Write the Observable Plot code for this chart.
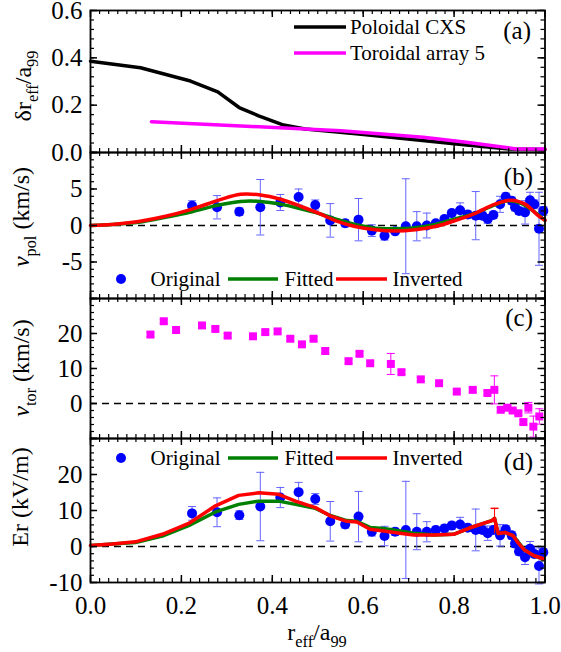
<!DOCTYPE html>
<html><head><meta charset="utf-8">
<script src="https://cdn.jsdelivr.net/npm/d3@7"></script>
<script src="https://cdn.jsdelivr.net/npm/@observablehq/plot@0.6"></script>
<style>
body{margin:0;background:#fff;}
#chart{position:relative;width:561px;height:652px;background:#fff;overflow:hidden;}
#chart svg{position:absolute;left:0;overflow:visible;}
#chart svg, #chart svg text, #chart svg tspan{font-family:"Liberation Serif","Times New Roman",serif !important;}
</style></head><body><div id="chart"></div>
<script>
// ---------- Panel (a): delta r_eff / a99 ----------
const aPolX = [0, 0.11, 0.22, 0.28, 0.327, 0.37, 0.425, 0.472, 0.59, 0.709, 0.827, 0.921, 1.0];
const aPolY = [0.386, 0.358, 0.302, 0.256, 0.190, 0.155, 0.116, 0.099, 0.078, 0.055, 0.032, 0.015, 0.013];
const aTorX = [0.134, 0.354, 0.551, 0.732, 0.827, 0.937, 1.0];
const aTorY = [0.130, 0.110, 0.092, 0.064, 0.043, 0.015, 0.015];

// ---------- Panel (b): v_pol ----------
const bX = [0.2235,0.2784,0.3275,0.3736,0.4176,0.4579,0.4945,0.5275,0.5604,0.5897,0.6190,0.6469,0.6703,0.6937,0.7179,0.7399,0.7597,0.7788,0.7949,0.8132,0.8300,0.8476,0.8623,0.8740,0.8864,0.9011,0.9136,0.9267,0.9341,0.9429,0.9561,0.9670,0.9765,0.9868,0.9963];
const bV = [2.7,2.5,1.9,2.5,3.15,3.9,2.8,0.7,0.3,0.8,-0.7,-1.4,-0.8,-0.1,-0.1,0,0.3,0.9,1.7,2.1,1.5,1.35,1.35,0.9,1.45,2.9,3.95,3.4,2.5,2.0,1.8,3.45,2.9,-0.45,2.0];
const bErr = [0.7,1.6,0.5,3.8,1.1,1.1,0.7,2.3,0.5,2.9,0.8,0.6,0.3,6.5,2.0,1.7,0.4,0.4,0.4,1.0,0.5,3.3,0.5,0.6,0.5,1.1,0.5,0.5,0.5,0.5,1.6,1.1,0.6,5.0,0.6];
const bFitX = [0,0.048,0.106,0.165,0.2235,0.282,0.33,0.374,0.418,0.465,0.5055,0.5385,0.5824,0.6264,0.6703,0.7143,0.7582,0.8022,0.8462,0.8901,0.9194,0.9487,0.978,1.0];
const bFitV = [0,0.14,0.45,1.13,1.89,2.8,3.3,3.3,2.93,2.25,1.58,0.9,0.14,-0.36,-0.45,-0.32,0.14,0.9,1.67,2.84,3.38,3.0,1.8,0.7];
const bInvX = [0,0.048,0.106,0.165,0.2235,0.282,0.33,0.374,0.418,0.465,0.5055,0.5385,0.5824,0.6264,0.6703,0.7143,0.7582,0.8022,0.8462,0.8901,0.9267,0.956,0.985,1.0];
const bInvV = [0,0.14,0.54,1.26,2.25,3.47,4.28,4.19,3.6,2.57,1.58,0.68,-0.14,-0.59,-0.77,-0.59,-0.14,0.68,1.67,2.93,3.47,2.93,1.35,0.7];

// ---------- Panel (c): v_tor ----------
const cX = [0.1319,0.1612,0.1883,0.2454,0.2747,0.3018,0.3575,0.3846,0.4117,0.4396,0.4652,0.4908,0.5165,0.5678,0.5919,0.6154,0.6608,0.6842,0.7267,0.7670,0.8059,0.8410,0.8733,0.8886,0.9026,0.9172,0.9289,0.9414,0.9524,0.9634,0.9744,0.9875];
const cV = [19.7,23.5,21.0,22.3,21.3,19.4,19.2,20.4,20.6,18.5,16.9,18.5,15.0,12.1,14.2,11.5,11.3,8.95,6.9,5.8,3.4,3.9,3.0,3.9,-1.8,-1.2,-2.0,-2.8,-5.3,-1.2,-6.6,-3.7];
const cErr = [0.6,0.6,0.6,0.6,0.6,0.6,0.6,0.6,0.6,0.6,0.6,0.6,0.6,0.6,0.6,0.6,3,0.6,0.6,0.6,0.6,0.6,0.6,4,0.6,0.6,0.6,0.6,0.6,1.5,3,2.2];

// ---------- Panel (d): Er ----------
const dX = [0.2234,0.2784,0.3275,0.3736,0.4176,0.4579,0.4945,0.5275,0.5604,0.5897,0.6190,0.6469,0.6703,0.6938,0.7179,0.7399,0.7597,0.7788,0.7949,0.8132,0.8300,0.8476,0.8623,0.8740,0.8864,0.9011,0.9136,0.9267,0.9341,0.9429,0.9561,0.9670,0.9765,0.9868,0.9963];
const dV = [9.2,9.5,8.7,11.1,13.6,15.1,13.2,7.0,6.1,8.3,4.1,2.9,4.1,4.6,4.1,4.1,4.6,5.0,5.8,6.1,5.2,4.6,4.6,3.7,4.6,3.1,4.8,3.1,0.8,-1.4,-3.0,-0.6,-2.1,-5.4,-1.6];
const dErr = [1.9,4,1.2,9.5,2.8,2.7,1.5,5.5,1,7,1.2,2.7,1,13.5,5,2.8,1,1,1,2,1,5.8,1,2,1,3,1,1,1,1,2,2,1,5,1];
const dFitX = [0,0.048,0.099,0.158,0.216,0.275,0.326,0.37,0.414,0.451,0.495,0.5275,0.564,0.586,0.615,0.645,0.681,0.711,0.755,0.799,0.835,0.883,0.889,0.897,0.912,0.93,0.955,0.975,0.996];
const dFitV = [0.3,0.7,1.1,2.9,5.8,9.6,11.7,12.6,12.6,11.7,10.6,8.6,7.2,7.0,5.3,5.0,4.3,3.7,3.2,3.4,5.2,7.2,7.8,3.6,3.9,3.0,-1.0,-2.5,-3.4];
const dInvX = [0,0.048,0.099,0.158,0.216,0.275,0.326,0.37,0.414,0.451,0.495,0.5275,0.564,0.586,0.615,0.645,0.681,0.711,0.755,0.799,0.835,0.883,0.889,0.897,0.912,0.93,0.941,0.955,0.975,0.996];
const dInvV = [0.3,0.7,1.3,3.4,6.4,11.3,14.2,14.9,14.5,12.6,10.8,8.5,7.0,6.8,4.8,4.3,3.7,3.2,3.2,3.4,5.2,7.2,7.8,3.6,3.9,3.0,1.0,-1.0,-2.5,-3.4];
const dInvErrX = [0.889];
const dInvErrLo = [3.6];
const dInvErrHi = [10.6];

// ---------- tick labels ----------
const xTickLabels = [0, 0.2, 0.4, 0.6, 0.8, 1.0];
const aTickLabels = [0, 0.2, 0.4, 0.6];
const bTickLabels = [-5, 0, 5];
const cTickLabels = [0, 10, 20];
const dTickLabels = [-10, 0, 10, 20];

// ---------- styling ----------
const FONT = '"Liberation Serif","Times New Roman",serif';
const BLUE = "#0000ff", ERRBLUE = "#6464ff", MAG = "#ff00ff", GREEN = "#008000", RED = "#ff0000";
const W = 561, ML = 90, MR = 16.5, FW = W - ML - MR;
const capSymbol = {draw(ctx, size) { const r = Math.sqrt(size / Math.PI); ctx.moveTo(-r, 0); ctx.lineTo(r, 0); }};

function idx(a) { return d3.range(a.length); }
function lineMark(X, Y, color, curve) {
  return Plot.line(idx(X), {x: i => X[i], y: i => Y[i], stroke: color, strokeWidth: 3.5, curve: curve || "linear"});
}
function errMarks(X, V, E, color) {
  const I = idx(X);
  return [
    Plot.ruleX(I, {x: i => X[i], y1: i => V[i] - E[i], y2: i => V[i] + E[i], stroke: color, strokeWidth: 1}),
    Plot.dot(I, {x: i => X[i], y: i => V[i] - E[i], symbol: capSymbol, r: 4, stroke: color, fill: "none", strokeWidth: 1}),
    Plot.dot(I, {x: i => X[i], y: i => V[i] + E[i], symbol: capSymbol, r: 4, stroke: color, fill: "none", strokeWidth: 1})
  ];
}
function frameTicks(h, yMaj, yMin) {
  const xMaj = [0, 0.2, 0.4, 0.6, 0.8, 1.0];
  const xMin = d3.range(0, 1.0001, 0.02);
  const s = {stroke: "black"};
  return [
    Plot.tickX(xMaj, {x: d => d, insetTop: h - 7, strokeWidth: 1.5, ...s}),
    Plot.tickX(xMaj, {x: d => d, insetBottom: h - 7, strokeWidth: 1.5, ...s}),
    Plot.tickX(xMin, {x: d => d, insetTop: h - 4, strokeWidth: 1.2, ...s}),
    Plot.tickX(xMin, {x: d => d, insetBottom: h - 4, strokeWidth: 1.2, ...s}),
    Plot.tickY(yMaj, {y: d => d, insetRight: FW - 7, strokeWidth: 1.5, ...s}),
    Plot.tickY(yMaj, {y: d => d, insetLeft: FW - 7, strokeWidth: 1.5, ...s}),
    Plot.tickY(yMin, {y: d => d, insetRight: FW - 4, strokeWidth: 1.2, ...s}),
    Plot.tickY(yMin, {y: d => d, insetLeft: FW - 4, strokeWidth: 1.2, ...s})
  ];
}
function panel({top, h, domain, yMaj, yMin, yLabels, yFormat, marks, bottomAxis}) {
  const mt = 12, mb = bottomAxis ? 70 : 10;
  const svg = Plot.plot({
    width: W, height: h + mt + mb,
    marginLeft: ML, marginRight: MR, marginTop: mt, marginBottom: mb,
    x: bottomAxis ? {domain: [0, 1]} : {domain: [0, 1], axis: null},
    y: {domain},
    style: {fontFamily: FONT, fontSize: "25px", background: "transparent", overflow: "visible", color: "black"},
    marks: [
      ...marks,
      ...frameTicks(h, yMaj, yMin),
      Plot.axisY({ticks: yLabels, tickSize: 0, tickPadding: 8, tickFormat: yFormat || (d => String(d)), label: null, fontFamily: FONT}),
      bottomAxis ? Plot.axisX({ticks: xTickLabels, tickSize: 0, tickPadding: 14, tickFormat: d3.format(".1f"), label: null, fontFamily: FONT}) : null,
      Plot.frame({stroke: "black", strokeWidth: 1.8})
    ]
  });
  svg.style.top = (top - mt) + "px";
  document.getElementById("chart").appendChild(svg);
}
const zeroLine = Plot.ruleY([0], {stroke: "black", strokeWidth: 1.5, strokeDasharray: "7,5"});

// (a)
panel({top: 10, h: 142, domain: [0, 0.6], yMaj: [0, 0.2, 0.4, 0.6], yMin: d3.range(0, 0.6001, 0.04),
  yLabels: aTickLabels, yFormat: d3.format(".1f"),
  marks: [lineMark(aPolX, aPolY, "black"), lineMark(aTorX, aTorY, MAG)]});

// (b)
panel({top: 152, h: 146, domain: [-10, 10], yMaj: [-10, -5, 0, 5, 10], yMin: d3.range(-10, 10.001, 1),
  yLabels: bTickLabels,
  marks: [zeroLine, ...errMarks(bX, bV, bErr, ERRBLUE),
    Plot.dot(idx(bX), {x: i => bX[i], y: i => bV[i], r: 5, fill: BLUE}),
    lineMark(bFitX, bFitV, GREEN, "catmull-rom"), lineMark(bInvX, bInvV, RED, "catmull-rom")]});

// (c)
panel({top: 298, h: 140, domain: [-10, 30], yMaj: [-10, 0, 10, 20, 30], yMin: d3.range(-10, 30.001, 2),
  yLabels: cTickLabels,
  marks: [zeroLine, ...errMarks(cX, cV, cErr, MAG),
    Plot.dot(idx(cX), {x: i => cX[i], y: i => cV[i], symbol: "square", r: 4.5, fill: MAG})]});

// (d)
panel({top: 438, h: 144, domain: [-10, 30], yMaj: [-10, 0, 10, 20, 30], yMin: d3.range(-10, 30.001, 2),
  yLabels: dTickLabels, bottomAxis: true,
  marks: [zeroLine, ...errMarks(dX, dV, dErr, ERRBLUE),
    Plot.dot(idx(dX), {x: i => dX[i], y: i => dV[i], r: 5, fill: BLUE}),
    lineMark(dFitX, dFitV, GREEN),
    Plot.ruleX(idx(dInvErrX), {x: i => dInvErrX[i], y1: i => dInvErrLo[i], y2: i => dInvErrHi[i], stroke: RED, strokeWidth: 1}),
    Plot.dot(idx(dInvErrX), {x: i => dInvErrX[i], y: i => dInvErrHi[i], symbol: capSymbol, r: 4, stroke: RED, fill: "none"}),
    lineMark(dInvX, dInvV, RED)]});

// ---------- overlay: titles, legends, panel labels ----------
const ov = d3.select("#chart").append("svg").attr("width", W).attr("height", 652)
  .style("top", "0px").style("pointer-events", "none");

function rich(x, y, parts, {size = 24, rotate = 0, anchor = "start"} = {}) {
  const t = ov.append("text").attr("x", x).attr("y", y).attr("font-size", size)
    .attr("font-family", FONT).attr("text-anchor", anchor).attr("fill", "black");
  if (rotate) t.attr("transform", `rotate(${rotate},${x},${y})`);
  let shift = 0;
  parts.forEach(p => {
    const s = t.append("tspan").text(p.t);
    const target = p.sub ? size * 0.3 : 0;
    if (target !== shift) { s.attr("dy", target - shift); shift = target; }
    if (p.sub) s.attr("font-size", size * 0.68);
    if (p.it) s.attr("font-style", "italic");
  });
  return t;
}
// y titles
rich(31, 86, [{t: "δr"}, {t: "eff", sub: true}, {t: "/a"}, {t: "99", sub: true}], {rotate: -90, anchor: "middle"});
rich(29, 217, [{t: "v", it: true}, {t: "pol", sub: true}, {t: " (km/s)"}], {rotate: -90, anchor: "middle"});
rich(29, 368, [{t: "v", it: true}, {t: "tor", sub: true}, {t: " (km/s)"}], {rotate: -90, anchor: "middle"});
rich(28, 497, [{t: "Er (kV/m)"}], {rotate: -90, anchor: "middle"});
// x title
rich(317, 640, [{t: "r"}, {t: "eff", sub: true}, {t: "/a"}, {t: "99", sub: true}], {anchor: "middle"});

// panel labels
rich(531, 39, [{t: "(a)"}], {size: 25, anchor: "end"});
rich(533, 185, [{t: "(b)"}], {size: 25, anchor: "end"});
rich(533, 326, [{t: "(c)"}], {size: 25, anchor: "end"});
rich(533, 470, [{t: "(d)"}], {size: 25, anchor: "end"});

// legend (a)
function legLine(x1, x2, y, color) {
  ov.append("line").attr("x1", x1).attr("x2", x2).attr("y1", y).attr("y2", y)
    .attr("stroke", color).attr("stroke-width", 3.5);
}
legLine(294, 346, 27, "black");
rich(350, 34, [{t: "Poloidal CXS"}], {size: 21});
legLine(294, 346, 53, MAG);
rich(350, 60, [{t: "Toroidal array 5"}], {size: 21});

// legends (b) and (d)
function legBD(yLine, yBase) {
  ov.append("circle").attr("cx", 121).attr("cy", yLine).attr("r", 5).attr("fill", BLUE);
  rich(150.5, yBase, [{t: "Original"}], {size: 21});
  legLine(228, 278, yLine, GREEN);
  rich(284.5, yBase, [{t: "Fitted"}], {size: 21});
  legLine(336, 387, yLine, RED);
  rich(392.5, yBase, [{t: "Inverted"}], {size: 21});
}
legBD(279, 286);
legBD(458, 464.5);
</script>
</body></html>
